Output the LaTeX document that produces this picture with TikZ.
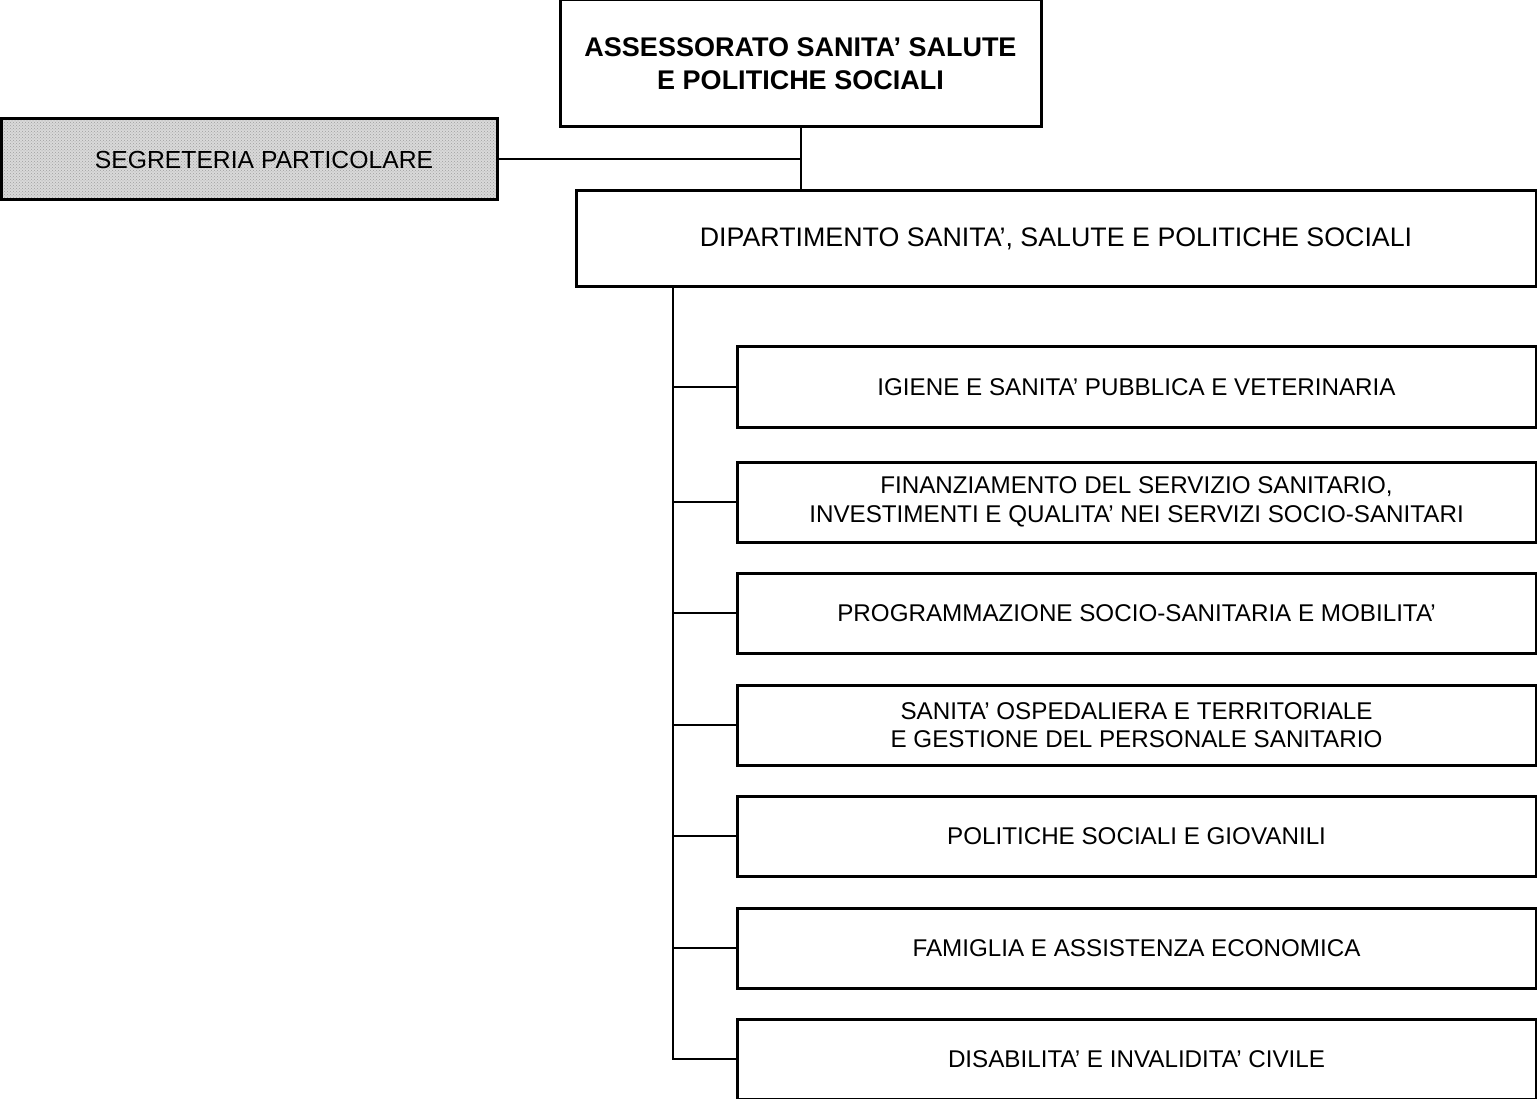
\documentclass[tikz,border=0pt]{standalone}
\usepackage{fontspec}
\setmainfont{Liberation Sans}
\usetikzlibrary{patterns}
\begin{document}
\begin{tikzpicture}[x=1pt,y=-1pt,
  boxstyle/.style={draw=black,line width=3pt,fill=white,inner sep=0pt,align=center},
  childbox/.style={boxstyle,minimum width=799pt,minimum height=80pt,
    font=\fontsize{24.2}{28.5}\selectfont},
  conn/.style={draw=black,line width=2pt}]
\useasboundingbox (0,0) rectangle (1537,1099);
\node[boxstyle,minimum width=481pt,minimum height=127pt,
  font=\fontsize{27}{33}\selectfont\bfseries] (top) at (800.5,63.5)
  {ASSESSORATO SANITA’ SALUTE\\E POLITICHE SOCIALI};
\node[boxstyle,minimum width=496pt,minimum height=81pt,
  preaction={fill=gray!30},pattern=crosshatch dots,pattern color=gray!75] (seg) at (249,159.5) {};
\node[font=\fontsize{24.7}{29}\selectfont,inner sep=0pt] (segtext) at (264,159.5) {SEGRETERIA PARTICOLARE};
\node[boxstyle,minimum width=960pt,minimum height=96pt,font=\fontsize{26.8}{32}\selectfont] (dip) at (1056,239)
  {DIPARTIMENTO SANITA’, SALUTE E POLITICHE SOCIALI};
\node[childbox] (c1) at (1136.5,387) {IGIENE E SANITA’ PUBBLICA E VETERINARIA};
\node[childbox] (c2) at (1136.5,502) {FINANZIAMENTO DEL SERVIZIO SANITARIO,\\INVESTIMENTI E QUALITA’ NEI SERVIZI SOCIO-SANITARI};
\node[childbox] (c3) at (1136.5,613) {PROGRAMMAZIONE SOCIO-SANITARIA E MOBILITA’};
\node[childbox] (c4) at (1136.5,725) {SANITA’ OSPEDALIERA E TERRITORIALE\\E GESTIONE DEL PERSONALE SANITARIO};
\node[childbox] (c5) at (1136.5,836) {POLITICHE SOCIALI E GIOVANILI};
\node[childbox] (c6) at (1136.5,948) {FAMIGLIA E ASSISTENZA ECONOMICA};
\node[childbox] (c7) at (1136.5,1059) {DISABILITA’ E INVALIDITA’ CIVILE};
\coordinate (trunk) at (673,287);
\draw[conn] (top.south) -- (top.south |- dip.north);
\draw[conn] (seg.east) -- (seg.east -| top.south);
\draw[conn] (trunk) -- (trunk |- c7.west) -- (c7.west);
\foreach \c in {c1,c2,c3,c4,c5,c6} {
  \draw[conn] (\c.west) -- (\c.west -| trunk);
}
\end{tikzpicture}
\end{document}
